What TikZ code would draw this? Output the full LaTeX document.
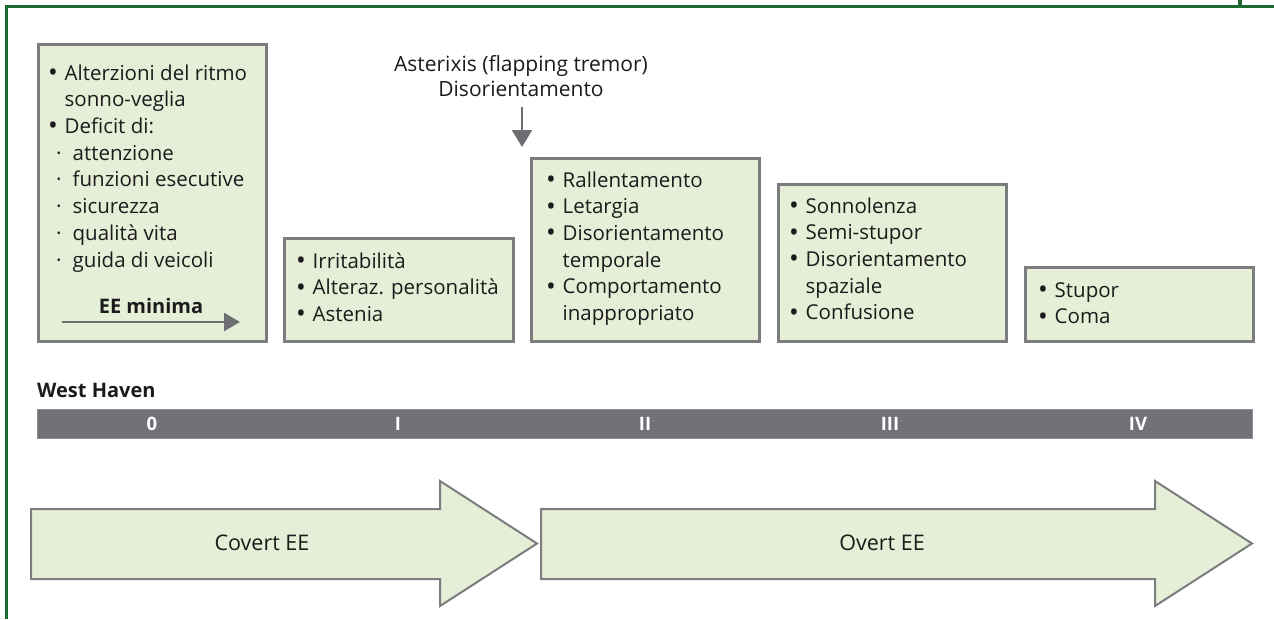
\documentclass[tikz,border=0pt]{standalone}
\usepackage{fontspec}
\setmainfont{Open Sans}
\usetikzlibrary{arrows.meta}
\definecolor{frameg}{HTML}{1E6B30}
\definecolor{boxfill}{HTML}{E5EFD8}
\definecolor{boxline}{HTML}{7C7C7E}
\definecolor{barg}{HTML}{737177}
\definecolor{txtc}{HTML}{1C1A1B}
\definecolor{arrg}{HTML}{6D6E71}
\newcommand\bul{\raisebox{-1.2pt}{\fontsize{26}{26}\selectfont\textbullet}}
\newcommand\bl[1]{\makebox[16.5pt][l]{\bul}#1}
\newcommand\cn[1]{\hspace*{16.5pt}#1}
\newcommand\sbl[1]{\hspace*{8pt}\makebox[16.5pt][l]{\textperiodcentered}#1}
\tikzset{
  box/.style={draw=boxline, fill=boxfill, line width=2.5pt, inner sep=0pt, anchor=north west},
  txt/.style={inner sep=0pt, anchor=north west, align=left, text=txtc,
    font=\fontsize{20.5}{26.7}\selectfont},
  big/.style={draw=boxline, fill=boxfill, line width=2pt, line join=miter},
  lab/.style={inner sep=0pt, text=txtc, font=\fontsize{21.5}{24}\selectfont},
  barlab/.style={inner sep=0pt, anchor=base, text=white, font=\bfseries\fontsize{18.5}{20}\selectfont},
  garrow/.style={draw=arrg, line width=2.2pt, -{Triangle[length=17pt,width=20pt]}, arrg},
}
\begin{document}
\begin{tikzpicture}[x=1pt,y=-1pt]
\useasboundingbox (0,0) rectangle (1274,619);
% frame
\draw[frameg, line width=2.5pt] (6.5,619) -- (6.5,6.5) -- (1274,6.5);
\draw[frameg, line width=3.5pt] (1240,0) -- (1240,6.5);

% boxes
\node[box, minimum width=228pt, minimum height=297pt] (b0) at (37,43) {};
\node[box, minimum width=229pt, minimum height=103pt] (b1) at (283,237) {};
\node[box, minimum width=228pt, minimum height=183pt] (b2) at (530,157) {};
\node[box, minimum width=228pt, minimum height=157pt] (b3) at (777,183) {};
\node[box, minimum width=228pt, minimum height=74pt] (b4) at (1024,266) {};

% box texts (first baseline = top + 18.69)
\node[txt] (t0) at (48,61.3) {\strut\bl{Alterzioni del ritmo}\\\cn{sonno-veglia}\\\bl{Deficit di:}\\
  \sbl{attenzione}\\\sbl{funzioni esecutive}\\\sbl{sicurezza}\\\sbl{qualità vita}\\\sbl{guida di veicoli}};
\node[lab, anchor=base, font=\bfseries\fontsize{20}{24}\selectfont] (eem) at (151,313) {EE minima};
\coordinate (e1) at (62,322);
\coordinate (e2) at (240,322);
\draw[garrow, line width=2.4pt, -{Triangle[length=16pt,width=18pt]}] (e1) -- (e2);

\node[txt] (t1) at (296,249.3) {\strut\bl{Irritabilità}\\\bl{Alteraz. personalità}\\\bl{Astenia}};
\node[txt] (t2) at (546,168.3) {\strut\bl{Rallentamento}\\\bl{Letargia}\\\bl{Disorientamento}\\\cn{temporale}\\\bl{Comportamento}\\\cn{inappropriato}};
\node[txt] (t3) at (789,194.3) {\strut\bl{Sonnolenza}\\\bl{Semi-stupor}\\\bl{Disorientamento}\\\cn{spaziale}\\\bl{Confusione}};
\node[txt] (t4) at (1038,278.3) {\strut\bl{Stupor}\\\bl{Coma}};

% asterixis
\node[lab, anchor=north, align=center, font=\fontsize{21}{25}\selectfont] (ast) at (521,53.5) {\strut Asterixis (flapping tremor)\\Disorientamento};
\coordinate (a1) at (522,107);
\coordinate (a2) at (522,147);
\draw[garrow] (a1) -- (a2);

% West Haven scale
\node[lab, anchor=base west, font=\bfseries\fontsize{20}{22}\selectfont] (wh) at (37,397) {West Haven};
\node[fill=barg, draw=barg!80!white, line width=0.6pt, inner sep=0pt, anchor=north west, minimum width=1215pt, minimum height=29pt] (bar) at (37,409) {};
\node[barlab] (g0) at (152,430) {0};
\node[barlab] (g1) at (398,430) {I};
\node[barlab] (g2) at (645,430) {II};
\node[barlab] (g3) at (890,430) {III};
\node[barlab] (g4) at (1138,430) {IV};

% big arrows
\draw[big] (31,509) -- (440,509) -- (440,481) -- (537,543.5) -- (440,606) -- (440,579) -- (31,579) -- cycle;
\draw[big] (541,509) -- (1155,509) -- (1155,481) -- (1252,543.5) -- (1155,606) -- (1155,579) -- (541,579) -- cycle;
\node[lab, anchor=center] (cov) at (262,543) {Covert EE};
\node[lab, anchor=center] (ov) at (882,543) {Overt EE};
\end{tikzpicture}
\end{document}
